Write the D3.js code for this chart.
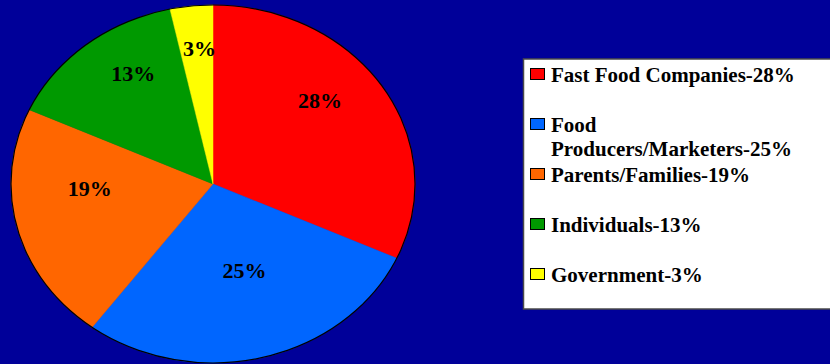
<!DOCTYPE html>
<html>
<head>
<meta charset="utf-8">
<script src="https://cdn.jsdelivr.net/npm/d3@7"></script>
<style>
  html, body { margin: 0; padding: 0; background: #000099; }
  svg { display: block; }
  text { font-family: "Liberation Serif", serif; font-weight: bold; }
</style>
</head>
<body>
<svg id="chart" width="830" height="364"></svg>
<script>
// Who is responsible for the obesity problem (share of responses)
const categories = ["Fast Food Companies", "Food Producers/Marketers", "Parents/Families", "Individuals", "Government"];
const values = [28, 25, 19, 13, 3];
const colors = ["#FF0000", "#0066FF", "#FF6600", "#009900", "#FFFF00"];
// Legend text lines (the second entry wraps onto two lines)
const legendLines = [
  ["Fast Food Companies-28%"],
  ["Food", "Producers/Marketers-25%"],
  ["Parents/Families-19%"],
  ["Individuals-13%"],
  ["Government-3%"]
];

const W = 830, H = 364;
const cx = 213, cy = 184, rx = 202, ry = 179;
const svg = d3.select("#chart");

svg.append("rect").attr("width", W).attr("height", H).attr("fill", "#000099");

const data = categories.map((c, i) => ({ name: c, value: values[i], color: colors[i] }));

const pie = d3.pie().sort(null).value(d => d.value);
const arcs = pie(data);
const arc = d3.arc().innerRadius(0).outerRadius(1);

// Unit pie, stretched into an ellipse
const g = svg.append("g").attr("transform", `translate(${cx},${cy}) scale(${rx},${ry})`);
g.selectAll("path.slice")
  .data(arcs)
  .enter().append("path")
  .attr("class", "slice")
  .attr("d", arc)
  .attr("fill", d => d.data.color)
  .attr("stroke", d => d.data.color)
  .attr("stroke-width", 0.5)
  .attr("vector-effect", "non-scaling-stroke");

svg.append("ellipse")
  .attr("cx", cx).attr("cy", cy).attr("rx", rx).attr("ry", ry)
  .attr("fill", "none").attr("stroke", "#000").attr("stroke-width", 1.2);

// Percentage labels inside slices
const labelArc = d3.arc().innerRadius(0.63).outerRadius(0.63);
const labelLift = -23;
svg.append("g").selectAll("text")
  .data(arcs)
  .enter().append("text")
  .attr("x", d => cx + labelArc.centroid(d)[0] * rx)
  .attr("y", d => cy + labelArc.centroid(d)[1] * ry + labelLift)
  .attr("text-anchor", "middle")
  .attr("dominant-baseline", "central")
  .style("font-family", "Liberation Serif")
  .style("font-weight", "bold")
  .style("font-size", "22px")
  .attr("fill", "#000")
  .text(d => d.data.value + "%");

// Legend
const lg = svg.append("g");
lg.append("rect")
  .attr("x", 523.5).attr("y", 59).attr("width", 320).attr("height", 250)
  .attr("fill", "#FFFFFF").attr("stroke", "#4a4a4a").attr("stroke-width", 1.5);

const entryY = d3.scalePoint().domain(categories).range([82, 282]);
const items = lg.selectAll("g.item")
  .data(data)
  .enter().append("g").attr("class", "item");

items.append("rect")
  .attr("x", 530.5).attr("y", d => entryY(d.name) - 13.5)
  .attr("width", 14).attr("height", 11)
  .attr("fill", d => d.color).attr("stroke", "#000").attr("stroke-width", 1);

items.append("text")
  .attr("x", 551)
  .attr("y", d => entryY(d.name))
  .style("font-family", "Liberation Serif")
  .style("font-weight", "bold")
  .style("font-size", "21px")
  .attr("fill", "#000")
  .each(function(d, i) {
    const t = d3.select(this);
    legendLines[i].forEach((line, j) => {
      t.append("tspan").attr("x", 551).attr("dy", j === 0 ? 0 : 24).text(line);
    });
  });
</script>
</body>
</html>
